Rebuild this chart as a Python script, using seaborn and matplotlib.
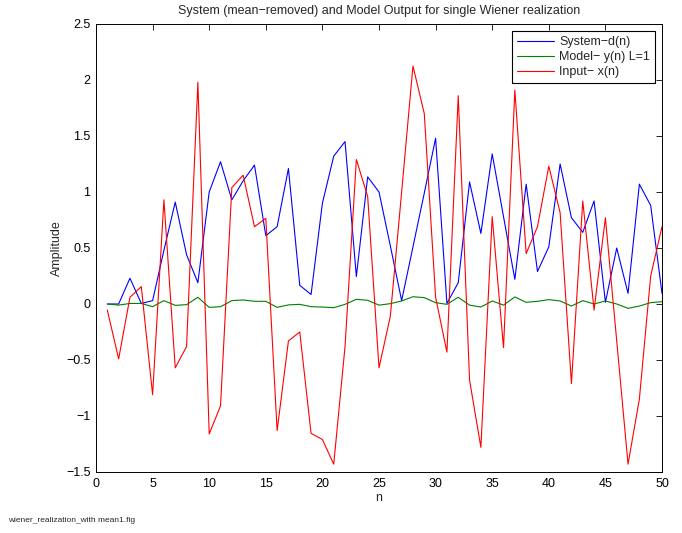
import numpy as np
import pandas as pd
import matplotlib
matplotlib.use("Agg")
import matplotlib.pyplot as plt
import seaborn as sns

# Sample index
n = list(range(1, 51))

# System output d(n), mean removed
system_d = [0.0, 0.0, 0.23, 0.005, 0.03, 0.48, 0.91, 0.44, 0.19, 1.0,
            1.27, 0.93, 1.10, 1.24, 0.61, 0.69, 1.21, 0.167, 0.085, 0.90,
            1.32, 1.45, 0.245, 1.135, 1.0, 0.52, 0.03, 0.51, 0.99, 1.48,
            0.005, 0.19, 1.09, 0.63, 1.34, 0.78, 0.22, 1.07, 0.29, 0.51,
            1.25, 0.77, 0.64, 0.92, 0.015, 0.50, 0.095, 1.07, 0.88, 0.095]

# Wiener model output y(n), L=1
model_y = [0.0, -0.01, 0.005, 0.005, -0.024, 0.03, -0.012, -0.006, 0.06, -0.03,
           -0.024, 0.03, 0.036, 0.024, 0.024, -0.03, -0.008, -0.003, -0.024, -0.027,
           -0.033, -0.003, 0.042, 0.033, -0.01, 0.003, 0.027, 0.065, 0.057, 0.012,
           -0.003, 0.06, -0.01, -0.027, 0.027, -0.01, 0.063, 0.015, 0.024, 0.039,
           0.027, -0.018, 0.03, 0.0, 0.027, 0.0, -0.039, -0.018, 0.012, 0.021]

# Input sequence x(n)
input_x = [-0.054, -0.49, 0.06, 0.155, -0.81, 0.93, -0.57, -0.38, 1.98, -1.16,
           -0.91, 1.04, 1.15, 0.69, 0.765, -1.13, -0.33, -0.25, -1.155, -1.21,
           -1.43, -0.38, 1.29, 0.96, -0.57, -0.11, 1.0, 2.125, 1.70, 0.06,
           -0.43, 1.86, -0.68, -1.28, 0.78, -0.39, 1.91, 0.45, 0.69, 1.23,
           0.815, -0.71, 0.92, -0.055, 0.77, -0.33, -1.43, -0.85, 0.25, 0.69]

labels = ["System\u2212d(n)", "Model\u2212 y(n) L=1", "Input\u2212 x(n)"]
colors = ["#0000ff", "#008000", "#ff0000"]

df = pd.concat([
    pd.DataFrame({"n": n, "Amplitude": system_d, "series": labels[0]}),
    pd.DataFrame({"n": n, "Amplitude": model_y, "series": labels[1]}),
    pd.DataFrame({"n": n, "Amplitude": input_x, "series": labels[2]}),
], ignore_index=True)

sns.set_style("white")
plt.rcParams["font.family"] = ["Liberation Sans", "DejaVu Sans"]

fig = plt.figure(figsize=(6.82, 5.33), dpi=100)
ax = fig.add_axes([96 / 682, 61 / 533, 566 / 682, 448 / 533])

sns.lineplot(data=df, x="n", y="Amplitude", hue="series",
             hue_order=labels, palette=dict(zip(labels, colors)),
             linewidth=0.8, ax=ax, legend=True)

ax.set_xlim(0, 50)
ax.set_ylim(-1.5, 2.5)
ax.set_xticks(np.arange(0, 51, 5))
ax.set_yticks(np.arange(-1.5, 2.51, 0.5))
ax.set_yticklabels(["\u22121.5", "\u22121", "\u22120.5", "0", "0.5",
                    "1", "1.5", "2", "2.5"])
ax.tick_params(direction="in", length=4, width=0.6, top=True, right=True,
               labelsize=9, colors="black", pad=4)
for sp in ax.spines.values():
    sp.set_visible(True)
    sp.set_color("black")
    sp.set_linewidth(0.7)

ax.set_xlabel("n", fontsize=9, labelpad=2)
ax.set_ylabel("Amplitude", fontsize=9, labelpad=2)
ax.set_title("System (mean\u2212removed) and Model Output for single Wiener realization",
             fontsize=9, pad=7.5)

leg = ax.legend(loc="upper right", bbox_to_anchor=(0.988, 0.984),
                borderaxespad=0, fontsize=9, frameon=True, fancybox=False,
                edgecolor="black", framealpha=1, handlelength=3.0,
                handletextpad=0.4, labelspacing=0.25, borderpad=0.4)
leg.get_frame().set_linewidth(0.8)

fig.text(8 / 682, 1 - 520 / 533, "wiener_realization_with mean1.fig",
         fontsize=6, va="center", ha="left")

fig.savefig("out.png", dpi=100, facecolor="white")
